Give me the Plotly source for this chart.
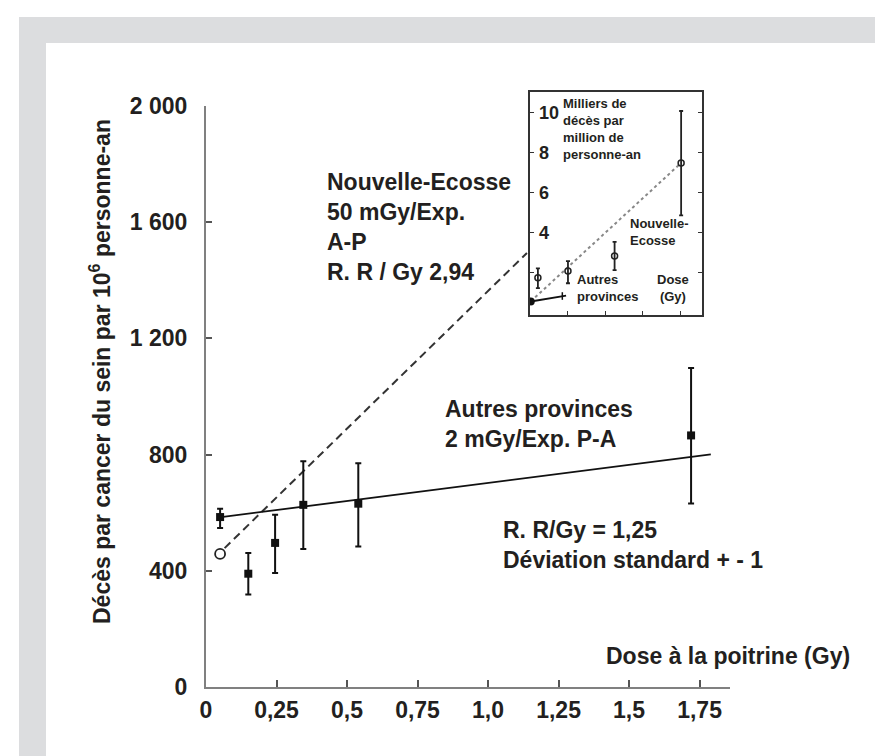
import plotly.graph_objects as go

# ---------------- data (main chart) ----------------
ap_dose = [0.05, 0.15, 0.245, 0.345, 0.54, 1.72]          # Autres provinces
ap_rate = [585, 390, 496, 627, 631, 866]
ap_err_plus = [29, 71, 97, 150, 139, 232]
ap_err_minus = [38, 72, 104, 152, 147, 234]

ne_dose = [0.05]                                           # Nouvelle-Ecosse
ne_rate = [458]

ap_fit_dose = [0.04, 1.79]
ap_fit_rate = [583, 801]
ne_fit_dose = [0.066, 1.138]
ne_fit_rate = [478, 1494]

y_ticks = [0, 400, 800, 1200, 1600, 2000]
y_ticklabels = ["0", "400", "800", "1 200", "1 600", "2 000"]
x_ticks = [0, 0.25, 0.5, 0.75, 1.0, 1.25, 1.5, 1.75]
x_ticklabels = ["0", "0,25", "0,5", "0,75", "1,0", "1,25", "1,5", "1,75"]

# ---------------- data (inset) ----------------
ins_ne_x = [0.21, 1.01, 2.25, 4.02]
ins_ne_y = [1.75, 2.08, 2.83, 7.49]
ins_ne_plus = [0.46, 0.50, 0.71, 2.60]
ins_ne_minus = [0.53, 0.61, 0.70, 2.62]
ins_ap_x = [0.02, 0.96]
ins_ap_y = [0.56, 0.85]
ins_ap_err_x = [0.86]
ins_ap_err_y = [0.83]
ins_ap_err = [0.19]
ins_fit_x = [0.02, 4.02]
ins_fit_y = [0.56, 7.49]
ins_y_ticks = [2, 4, 6, 8, 10]
ins_y_label_vals = [4, 6, 8, 10]
ins_y_labels = ["4", "6", "8", "10"]
ins_x_ticks = [1, 2, 3, 4]

# ---------------- layout helpers ----------------
W, H = 883, 756
L, R, T, B = 198, 722, 80, 679


def px(x):
    return (x - L) / (R - L)


def py(y):
    return (B - y) / (B - T)


FONT = "Liberation Sans"
TXT = "#231f20"
GRAY = "#dcdddf"

fig = go.Figure()

# regression lines
fig.add_trace(go.Scatter(x=ne_fit_dose, y=ne_fit_rate, mode="lines",
                         line=dict(color="#333", width=2, dash="8px,5px"),
                         hoverinfo="skip", showlegend=False))
fig.add_trace(go.Scatter(x=ap_fit_dose, y=ap_fit_rate, mode="lines",
                         line=dict(color="#111", width=1.8),
                         hoverinfo="skip", showlegend=False))
# data points
fig.add_trace(go.Scatter(x=ap_dose, y=ap_rate, mode="markers",
                         marker=dict(symbol="square", size=8, color="#111"),
                         error_y=dict(type="data", array=ap_err_plus, arrayminus=ap_err_minus,
                                      color="#111", thickness=2, width=3),
                         showlegend=False))
fig.add_trace(go.Scatter(x=ne_dose, y=ne_rate, mode="markers",
                         marker=dict(symbol="circle-open", size=10, color="#222",
                                     line=dict(width=1.8)),
                         showlegend=False))

# inset traces
fig.add_trace(go.Scatter(x=ins_fit_x, y=ins_fit_y, mode="lines", xaxis="x2", yaxis="y2",
                         line=dict(color="#888", width=2, dash="dot"),
                         hoverinfo="skip", showlegend=False))
fig.add_trace(go.Scatter(x=ins_ap_x, y=ins_ap_y, mode="lines", xaxis="x2", yaxis="y2",
                         line=dict(color="#111", width=2),
                         hoverinfo="skip", showlegend=False))
fig.add_trace(go.Scatter(x=ins_ap_x[:1], y=ins_ap_y[:1], mode="markers", xaxis="x2", yaxis="y2",
                         marker=dict(symbol="circle", size=8, color="#111"),
                         showlegend=False))
fig.add_trace(go.Scatter(x=ins_ap_err_x, y=ins_ap_err_y, mode="markers", xaxis="x2", yaxis="y2",
                         marker=dict(size=1, color="rgba(0,0,0,0)"),
                         error_y=dict(type="data", array=ins_ap_err, color="#111",
                                      thickness=1.5, width=0),
                         showlegend=False))
fig.add_trace(go.Scatter(x=ins_ne_x, y=ins_ne_y, mode="markers", xaxis="x2", yaxis="y2",
                         marker=dict(symbol="circle-open", size=6, color="#222",
                                     line=dict(width=1.5)),
                         error_y=dict(type="data", array=ins_ne_plus, arrayminus=ins_ne_minus,
                                      color="#222", thickness=1.8, width=2),
                         showlegend=False))

shapes = [
    dict(type="rect", xref="paper", yref="paper", x0=px(11), x1=px(W), y0=py(H), y1=py(9),
         fillcolor=GRAY, line=dict(width=0), layer="below"),
    dict(type="rect", xref="paper", yref="paper", x0=px(38), x1=px(867), y0=py(H), y1=py(35),
         fillcolor="white", line=dict(width=0), layer="below"),
]


def ann(text, x, y, size, xanchor="left", angle=0):
    return dict(text=text, xref="paper", yref="paper", x=px(x), y=py(y),
                xanchor=xanchor, yanchor="middle", showarrow=False,
                align=xanchor if xanchor != "center" else "center",
                textangle=angle,
                font=dict(family=FONT, size=size, color=TXT, weight="bold"))


annotations = [
    ann("Nouvelle-Ecosse<br>50 mGy/Exp.<br>A-P<br>R. R / Gy 2,94", 317, 219, 23),
    ann("Autres provinces<br>2 mGy/Exp. P-A", 435, 416, 23),
    ann("R. R/Gy = 1,25<br>Déviation standard + - 1", 493, 537, 23),
    ann("Dose à la poitrine (Gy)", 596, 648, 23),
    ann("Décès par cancer du sein par 10<sup>6</sup> personne-an", 92, 364, 23,
        xanchor="center", angle=-90),
    ann("Milliers de<br>décès par<br>million de<br>personne-an", 553, 121, 13),
    ann("Nouvelle-<br>Ecosse", 620, 224, 13),
    ann("Autres<br>provinces", 567, 280, 13),
    ann("Dose<br>(Gy)", 665, 280, 13, xanchor="center"),
]

axis_font = dict(family=FONT, size=23, color=TXT, weight="bold")

fig.update_layout(
    width=W, height=H, autosize=False,
    margin=dict(l=L, r=W - R, t=T, b=H - B, pad=0),
    paper_bgcolor="white", plot_bgcolor="rgba(0,0,0,0)",
    showlegend=False,
    shapes=shapes, annotations=annotations,
    xaxis=dict(domain=[0, 1], range=[0, 1.858], tickvals=x_ticks, ticktext=x_ticklabels,
               showgrid=False, zeroline=False, showline=True, linecolor="#808080", linewidth=2,
               ticks="inside", ticklen=7, tickwidth=1.5, tickcolor="#555",
               tickfont=axis_font, anchor="y", ticklabelstandoff=1),
    yaxis=dict(domain=[0, py(98)], range=[0, 2000], tickvals=y_ticks, ticktext=y_ticklabels,
               showgrid=False, zeroline=False, showline=True, linecolor="#808080", linewidth=2,
               ticks="inside", ticklen=6, tickwidth=1.5, tickcolor="#555",
               tickfont=axis_font, anchor="x", ticklabelstandoff=12),
    xaxis2=dict(domain=[px(522), px(694)], range=[0, 4.575], tickvals=ins_x_ticks,
                showticklabels=False, showgrid=False, zeroline=False, showline=True,
                mirror=True, linecolor="#333", linewidth=1.5,
                ticks="inside", ticklen=4, tickwidth=1.2, tickcolor="#333", anchor="y2"),
    yaxis2=dict(domain=[py(307), py(84)], range=[-0.12, 11.04], tickvals=ins_y_ticks,
                showticklabels=False, showgrid=False, zeroline=False, showline=True,
                mirror="ticks", linecolor="#333", linewidth=1.5,
                ticks="inside", ticklen=4, tickwidth=1.2, tickcolor="#333", anchor="x2"),
    # overlay axis carrying only the labelled inset ticks (2 is unlabelled in the original)
    yaxis3=dict(domain=[py(307), py(84)], range=[-0.12, 11.04], tickvals=ins_y_label_vals,
                ticktext=["<b>" + t + "</b>" for t in ins_y_labels],
                showgrid=False, zeroline=False, showline=False,
                ticks="", ticklabelposition="inside", ticklabelstandoff=6,
                tickfont=dict(family=FONT, size=18, color=TXT, weight="bold"),
                anchor="x2", overlaying="y2"),
)
# invisible trace so yaxis3 is drawn
fig.add_trace(go.Scatter(x=ins_fit_x, y=ins_fit_y, mode="lines", xaxis="x2", yaxis="y3",
                         line=dict(width=0, color="rgba(0,0,0,0)"), hoverinfo="skip",
                         showlegend=False))

fig.write_html("out.html")
